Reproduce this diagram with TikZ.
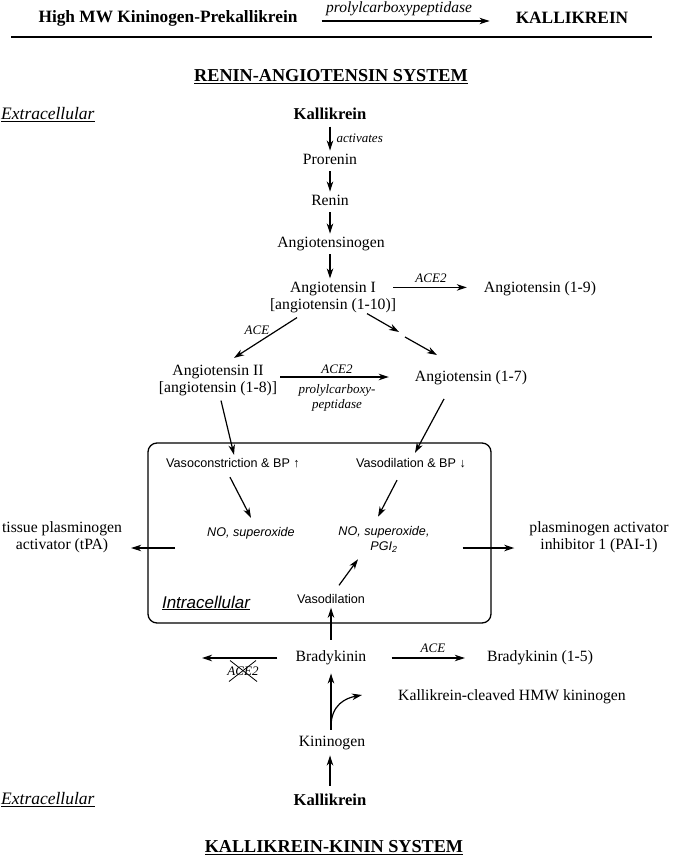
\documentclass[tikz,border=0pt]{standalone}
\usepackage{fontspec}
\setmainfont{Liberation Serif}
\setsansfont{Liberation Sans}
\usetikzlibrary{arrows.meta}
\begin{document}
\begin{tikzpicture}[x=1pt,y=-1pt,
  arr/.style={line width=1.2pt,-{Stealth[length=10pt,width=6.5pt,inset=3pt]}},
  txt/.style={font=\fontsize{15.7}{17}\selectfont,text height=11pt,text depth=3.5pt,inner sep=3pt},
  two/.style={font=\fontsize{15.7}{17}\selectfont,align=center,inner sep=3pt},
  bld/.style={font=\bfseries\fontsize{16.6}{18}\selectfont,text height=11.5pt,text depth=3.5pt,inner sep=3pt},
  ttl/.style={font=\bfseries\fontsize{17.3}{19}\selectfont,inner sep=3pt},
  sec/.style={font=\bfseries\fontsize{18.2}{20}\selectfont,inner sep=2pt},
  sns/.style={font=\sffamily\fontsize{12.6}{15}\selectfont,text height=9.5pt,text depth=2.5pt,inner sep=2pt},
  snsi/.style={font=\sffamily\itshape\fontsize{12.6}{15}\selectfont,text height=9.5pt,text depth=2.5pt,inner sep=2pt},
  sns2/.style={font=\sffamily\itshape\fontsize{12.6}{15}\selectfont,align=center,inner sep=2pt},
  lab/.style={font=\itshape\fontsize{13}{15}\selectfont,inner sep=1pt},
  side/.style={font=\itshape\fontsize{17.5}{19}\selectfont,inner sep=1pt}
]
\useasboundingbox (0,0) rectangle (672,858);

% title row
\node[ttl] (hmw) at (168,18) {High MW Kininogen-Prekallikrein};
\node[ttl] (KAL) at (572,18) {KALLIKREIN};
\node[font=\itshape\fontsize{15.5}{17}\selectfont,inner sep=1pt] (pcp) at (399,9) {prolylcarboxypeptidase};
\draw[arr,shorten >=23pt] ([shift={(21,3)}]hmw.east) coordinate (t0) -- (t0 -| KAL.west);
\draw[line width=1.3pt] (11,37) -- (652,37);

\node[sec] (ras) at (331,77) {\underline{RENIN-ANGIOTENSIN SYSTEM}};
\node[side,anchor=west] (ext1) at (0,115) {\underline{Extracellular}};

% renin-angiotensin chain
\node[bld] (kal1) at (330,116) {Kallikrein};
\node[txt] (pro) at (330,161) {Prorenin};
\node[txt] (ren) at (330,202) {Renin};
\node[txt] (agt) at (331,244) {Angiotensinogen};
\node[two] (ang1) at (333,297) {Angiotensin I\\{[}angiotensin (1-10)]};
\node[txt] (a19) at (540,288.5) {Angiotensin (1-9)};
\node[two] (ang2) at (218,380) {Angiotensin II\\{[}angiotensin (1-8)]};
\node[txt] (a17) at (471,377.5) {Angiotensin (1-7)};

\draw[arr] (kal1) -- (pro) node[midway,lab,anchor=west,xshift=5pt] (act) {activates};
\draw[arr] (pro) -- (ren);
\draw[arr] (ren) -- (ren |- agt.north);
\draw[arr] (agt.south -| ren) -- (ren |- ang1.north);

\draw[arr,shorten >=14pt] ([shift={(-6,9)}]ang1.north east) coordinate (t1) -- (t1 -| a19.west);
\node[lab] (ace2a) at (431,278) {ACE2};

\draw[arr] ([shift={(-36,2)}]ang1.south) -- ([shift={(16,-3.5)}]ang2.north);
\node[lab] (acea) at (257,330) {ACE};

\coordinate (brk1) at (399,332);
\coordinate (brk2) at (405,337);
\draw[arr] ([shift={(34,-2)}]ang1.south) -- (brk1);
\draw[arr] (brk2) -- ([shift={(-34,-12)}]a17.north);

\draw[arr,shorten >=23pt] ([shift={(0,-3)}]ang2.east) coordinate (t2) -- (t2 -| a17.west);
\node[lab] (ace2b) at (337,369) {ACE2};
\node[lab,align=center] (pcp2) at (337,398) {prolylcarboxy-\\peptidase};

% intracellular box
\draw[line width=1.3pt,rounded corners=9pt] (148,443) rectangle (491,623);
\node[sns] (vc) at (233,464) {Vasoconstriction \& BP \char"2191};
\node[sns] (vd) at (411,464) {Vasodilation \& BP \char"2193};
\node[snsi] (nos1) at (251,533) {NO, superoxide};
\node[sns2] (nos2) at (384,539) {NO, superoxide,\\PGI\textsubscript{2}};
\node[sns] (vas) at (331,599.5) {Vasodilation};
\node[font=\sffamily\itshape\fontsize{17}{19}\selectfont,inner sep=1pt] (intra) at (206,603) {\underline{Intracellular}};

\draw[arr] ([shift={(3,2)}]ang2.south) -- ([shift={(1,-1)}]vc.north);
\draw[arr] ([shift={(-27,11)}]a17.south) -- ([shift={(4,-3)}]vd.north);
\draw[arr] ([shift={(-3,5)}]vc.south) -- ([shift={(0,-7)}]nos1.north);
\draw[arr] ([shift={(-14,8)}]vd.south) -- ([shift={(-6,-7)}]nos2.north);
\draw[arr] ([shift={(8,-6)}]vas.north) -- ([shift={(-26,5)}]nos2.south);

\node[two,font=\fontsize{15.7}{16.5}\selectfont] (tpa) at (62,537) {tissue plasminogen\\activator (tPA)};
\node[two,font=\fontsize{15.7}{16.5}\selectfont] (pai) at (599,537) {plasminogen activator\\inhibitor 1 (PAI-1)};
\draw[arr,shorten >=6pt] ([shift={(-30,15)}]nos1.west) coordinate (t3) -- (t3 -| tpa.east);
\draw[arr,shorten >=12pt] ([shift={(31,9)}]nos2.east) coordinate (t4) -- (t4 -| pai.west);

% kallikrein-kinin
\node[txt] (bk) at (331,658) {Bradykinin};
\node[txt] (bk15) at (540,658) {Bradykinin (1-5)};
\node[txt,anchor=west] (kc) at (395,696.5) {Kallikrein-cleaved HMW kininogen};
\node[txt] (kin) at (332,743) {Kininogen};
\node[bld] (kal2) at (330,801.5) {Kallikrein};
\node[side,anchor=west] (ext2) at (0,800) {\underline{Extracellular}};
\node[sec] (kks) at (334,848) {\underline{KALLIKREIN-KININ SYSTEM}};

\draw[arr] ([shift={(0,-8)}]bk.north) -- (bk.north |- vas.south);
\coordinate (ace2end) at (202,658);
\draw[arr] ([shift={(-15,0)}]bk.west) -- (ace2end);
\node[lab] (xace) at (243,671) {ACE2};
\draw[line width=0.8pt] ([shift={(-13,-10.5)}]xace.center) -- ([shift={(14,10.5)}]xace.center);
\draw[line width=0.8pt] ([shift={(-14,10.5)}]xace.center) -- ([shift={(13,-10.5)}]xace.center);
\draw[arr] ([shift={(22,0)}]bk.east) -- ([shift={(-19,0)}]bk15.west);
\node[lab] (aceb) at (433,648) {ACE};

\draw[arr] ([shift={(-1,-3)}]kin.north) -- ([shift={(-1,5)}]kin.north |- bk.south);
\coordinate (kcend) at (362,695);
\draw[arr] ([shift={(-1,-6)}]kin.north) .. controls +(0,-22) and +(-16,3) .. (kcend);
\draw[arr] ([shift={(0,-5)}]kal2.north) -- ([shift={(0,2)}]kal2.north |- kin.south);
\end{tikzpicture}
\end{document}
